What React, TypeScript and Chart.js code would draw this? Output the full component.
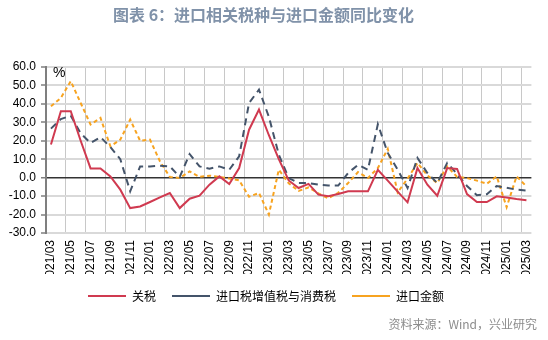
import React, { useEffect, useRef } from 'react';
import { Chart, registerables } from 'chart.js';

Chart.register(...registerables);

const months = [
  '2021/03', '2021/04', '2021/05', '2021/06', '2021/07', '2021/08', '2021/09', '2021/10', '2021/11', '2021/12',
  '2022/01', '2022/02', '2022/03', '2022/04', '2022/05', '2022/06', '2022/07', '2022/08', '2022/09', '2022/10',
  '2022/11', '2022/12', '2023/01', '2023/02', '2023/03', '2023/04', '2023/05', '2023/06', '2023/07', '2023/08',
  '2023/09', '2023/10', '2023/11', '2023/12', '2024/01', '2024/02', '2024/03', '2024/04', '2024/05', '2024/06',
  '2024/07', '2024/08', '2024/09', '2024/10', '2024/11', '2024/12', '2025/01', '2025/02', '2025/03',
];

const tariff = [
  18, 36, 36, 20, 5, 5, 0.7, -6.5, -16.5, -15.6,
  -13.2, -10.7, -8.3, -16.5, -11.4, -9.8, -3.8, 0.7, -3.4, 5.2,
  26, 36.9, 23, 10, -1.5, -5.6, -3.4, -9.2, -10.1, -8.9,
  -7.4, -7.4, -7.4, 4.3, -1.6, -7.6, -13.4, 5.2, -3.8, -9.8,
  5.2, 4.7, -8.9, -13.2, -13.2, -10.1, -10.7, -11.6, -12.3,
];

const importVatConsumption = [
  26.6, 31.8, 33.6, 24, 18.8, 22, 16.6, 10, -7.4, 6.1,
  6.1, 6.5, 6.1, 0.4, 12.8, 6.1, 4.9, 6.1, 4.3, 11.6,
  40.5, 47.7, 33, 12.5, -0.2, -2.9, -2.9, -3.8, -4.3, -4.3,
  2.5, 7, 4.3, 29, 13.4, 4.3, -5.6, 10.7, 2.5, -2.9,
  8, 2, -4.5, -9.5, -9, -4.5, -5.5, -6.5, -7,
];

const importValue = [
  38.7, 43.2, 52.3, 40.5, 28.8, 32.4, 17, 20.6, 31.5, 20,
  20.6, 8.9, 0.4, -0.2, 3.4, 0.4, 1.1, 0.4, -0.4, -1.4,
  -10.3, -8.3, -20, 4.3, -3, -7.2, -5.3, -8.5, -11.2, -8.2,
  -2.9, 3, -0.2, 5.2, 15.6, -8, -0.5, 8, 1.2, -2.9,
  6.1, 0.4, -0.2, -1.6, -3.3, 0.7, -16, 0.7, -4.7,
];

const seriesNames = ['关税', '进口税增值税与消费税', '进口金额'];
const yMin = -30;
const yMax = 60;
const yStep = 10;

const titleText = '图表 6：进口相关税种与进口金额同比变化';
const sourceText = '资料来源：Wind，兴业研究';

export default function App() {
  const ref = useRef<HTMLCanvasElement | null>(null);

  useEffect(() => {
    if (!ref.current) return;
    const tickFont = { family: '"Liberation Sans", Arial, sans-serif', size: 12 };
    const chart = new Chart(ref.current, {
      type: 'line',
      data: {
        labels: months,
        datasets: [
          {
            label: seriesNames[0],
            data: tariff,
            borderColor: '#d03a50',
            backgroundColor: '#d03a50',
            borderWidth: 2,
            pointRadius: 0,
            tension: 0,
          },
          {
            label: seriesNames[1],
            data: importVatConsumption,
            borderColor: '#44546a',
            backgroundColor: '#44546a',
            borderWidth: 2,
            borderDash: [7, 5],
            pointRadius: 0,
            tension: 0,
          },
          {
            label: seriesNames[2],
            data: importValue,
            borderColor: '#f7a320',
            backgroundColor: '#f7a320',
            borderWidth: 2,
            borderDash: [4, 3],
            pointRadius: 0,
            tension: 0,
          },
        ],
      },
      options: {
        responsive: false,
        animation: false,
        devicePixelRatio: 1,
        layout: { padding: { top: 67, right: 16, bottom: 28, left: 0 } },
        plugins: {
          legend: {
            position: 'bottom',
            labels: {
              usePointStyle: true,
              pointStyle: 'line',
              pointStyleWidth: 38,
              padding: 16,
              color: '#000',
              font: { family: '"Noto Sans CJK SC", sans-serif', size: 12 },
            },
          },
          tooltip: { enabled: false },
        },
        scales: {
          x: {
            offset: true,
            grid: {
              offset: true,
              drawTicks: false,
              lineWidth: 1,
              color: (ctx: any) => (ctx.index % 2 === 0 ? '#c8c8c8' : 'rgba(0,0,0,0)'),
            },
            border: { display: false },
            ticks: {
              autoSkip: false,
              minRotation: 90,
              maxRotation: 90,
              padding: 7,
              color: '#000',
              font: tickFont,
              callback: (_v: any, i: number) => (i % 2 === 0 ? months[i] : ''),
            },
            afterFit: (s: any) => {
              s.height = 41;
            },
          },
          y: {
            min: yMin,
            max: yMax,
            ticks: {
              stepSize: yStep,
              padding: 5,
              color: '#000',
              font: tickFont,
              callback: (v: any) => Number(v).toFixed(1),
            },
            grid: {
              color: (ctx: any) => (ctx.tick && ctx.tick.value === 0 ? '#333333' : '#d9d9d9'),
              lineWidth: (ctx: any) => (ctx.tick && ctx.tick.value === 0 ? 1.5 : 2),
              tickColor: '#7f7f7f',
              tickLength: 5,
              tickWidth: 1.5,
            },
            border: { color: '#7f7f7f', width: 2 },
            afterFit: (s: any) => {
              s.width = 46;
            },
          },
        },
      },
    });
    return () => chart.destroy();
  }, []);

  return (
    <div style={{ position: 'fixed', left: 0, top: 0, width: 548, height: 340, background: '#fff', overflow: 'hidden' }}>
      <canvas ref={ref} width={548} height={340} style={{ position: 'absolute', left: 0, top: 0, width: 548, height: 340 }} />
      <div
        style={{
          position: 'absolute', left: 113, top: 4, whiteSpace: 'nowrap',
          font: 'bold 16px "Noto Sans CJK SC", sans-serif', lineHeight: '20px', color: '#8092a9',
        }}
      >
        {titleText}
      </div>
      <div
        style={{
          position: 'absolute', left: 53, top: 64, font: '14px "Liberation Sans", Arial, sans-serif',
          lineHeight: '16px', color: '#000',
        }}
      >
        %
      </div>
      <div
        style={{
          position: 'absolute', right: 11, top: 316, whiteSpace: 'nowrap',
          font: '12px "Noto Sans CJK SC", sans-serif', lineHeight: '16px', color: '#8c8c8c',
        }}
      >
        {sourceText}
      </div>
    </div>
  );
}
